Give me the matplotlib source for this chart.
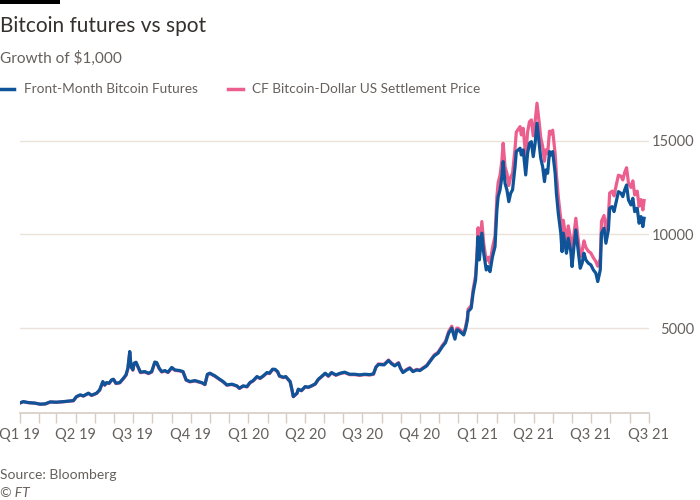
import matplotlib
matplotlib.use("Agg")
import matplotlib.pyplot as plt
import matplotlib.dates as mdates
from matplotlib.lines import Line2D
from matplotlib.patches import Rectangle
import pandas as pd

plt.rcParams['font.family'] = ['Lato', 'DejaVu Sans']

dates = [
    "2019-01-01", "2019-01-07", "2019-01-15", "2019-01-26", "2019-02-03", "2019-02-11", "2019-02-19",
    "2019-03-01", "2019-03-12", "2019-03-23", "2019-03-28", "2019-04-02", "2019-04-08", "2019-04-13",
    "2019-04-21", "2019-04-26", "2019-05-04", "2019-05-09", "2019-05-14", "2019-05-17", "2019-05-20",
    "2019-05-24", "2019-05-28", "2019-05-31", "2019-06-04", "2019-06-10", "2019-06-16", "2019-06-20",
    "2019-06-23", "2019-06-26", "2019-06-28", "2019-07-01", "2019-07-03", "2019-07-06", "2019-07-10",
    "2019-07-13", "2019-07-20", "2019-07-26", "2019-07-31", "2019-08-05", "2019-08-08", "2019-08-12",
    "2019-08-16", "2019-08-21", "2019-08-26", "2019-09-01", "2019-09-06", "2019-09-14", "2019-09-19",
    "2019-09-24", "2019-09-30", "2019-10-08", "2019-10-13", "2019-10-19", "2019-10-24", "2019-10-28",
    "2019-11-01", "2019-11-09", "2019-11-14", "2019-11-22", "2019-11-28", "2019-12-06", "2019-12-14",
    "2019-12-18", "2019-12-24", "2019-12-30", "2020-01-04", "2020-01-09", "2020-01-15", "2020-01-20",
    "2020-01-25", "2020-01-31", "2020-02-04", "2020-02-09", "2020-02-13", "2020-02-17", "2020-02-20",
    "2020-02-26", "2020-03-01", "2020-03-08", "2020-03-11", "2020-03-13", "2020-03-19", "2020-03-21",
    "2020-03-26", "2020-04-01", "2020-04-06", "2020-04-11", "2020-04-17", "2020-04-22", "2020-04-27",
    "2020-05-03", "2020-05-08", "2020-05-13", "2020-05-20", "2020-05-27", "2020-06-03", "2020-06-11",
    "2020-06-19", "2020-06-27", "2020-07-05", "2020-07-13", "2020-07-19", "2020-07-23", "2020-07-27",
    "2020-08-05", "2020-08-12", "2020-08-17", "2020-08-22", "2020-08-28", "2020-08-31", "2020-09-04",
    "2020-09-10", "2020-09-15", "2020-09-20", "2020-09-26", "2020-10-01", "2020-10-06", "2020-10-12",
    "2020-10-21", "2020-10-24", "2020-10-30", "2020-11-06", "2020-11-11", "2020-11-16", "2020-11-21",
    "2020-11-26", "2020-11-29", "2020-12-01", "2020-12-10", "2020-12-13", "2020-12-16", "2020-12-17",
    "2020-12-22", "2020-12-25", "2020-12-29", "2020-12-31", "2021-01-02", "2021-01-04", "2021-01-08",
    "2021-01-11", "2021-01-15", "2021-01-18", "2021-01-21", "2021-01-25", "2021-01-29", "2021-02-01",
    "2021-02-03", "2021-02-06", "2021-02-09", "2021-02-11", "2021-02-14", "2021-02-17", "2021-02-20",
    "2021-02-23", "2021-02-26", "2021-03-02", "2021-03-04", "2021-03-07", "2021-03-10", "2021-03-12",
    "2021-03-15", "2021-03-19", "2021-03-22", "2021-03-25", "2021-03-28", "2021-03-31", "2021-04-03",
    "2021-04-06", "2021-04-10", "2021-04-12", "2021-04-15", "2021-04-18", "2021-04-20", "2021-04-23",
    "2021-04-26", "2021-04-28", "2021-05-01", "2021-05-05", "2021-05-07", "2021-05-10", "2021-05-14",
    "2021-05-16", "2021-05-18", "2021-05-21", "2021-05-23", "2021-05-26", "2021-05-30", "2021-06-01",
    "2021-06-04", "2021-06-07", "2021-06-10", "2021-06-14", "2021-06-17", "2021-06-20", "2021-06-23",
    "2021-06-27", "2021-07-01", "2021-07-05", "2021-07-09", "2021-07-12", "2021-07-16", "2021-07-18",
    "2021-07-22", "2021-07-25", "2021-07-29", "2021-07-31", "2021-08-04", "2021-08-07", "2021-08-10",
    "2021-08-14", "2021-08-18", "2021-08-21", "2021-08-24", "2021-08-27", "2021-08-30", "2021-09-03",
    "2021-09-06", "2021-09-09", "2021-09-13", "2021-09-16", "2021-09-19", "2021-09-22", "2021-09-24",
]

futures = [
    1000, 1080, 1030, 1000, 945, 960, 1065,
    1050, 1080, 1120, 1135, 1350, 1440, 1385,
    1530, 1420, 1530, 1705, 2150, 1970, 2095,
    2060, 2240, 2275, 2060, 2095, 2330, 2505,
    2860, 3750, 2950, 2780, 3130, 3180, 2880,
    2650, 2680, 2595, 2680, 3190, 3160, 2860,
    2680, 2735, 2650, 2900, 2770, 2735, 2680,
    2240, 2150, 2200, 2150, 2095, 2000, 2540,
    2595, 2450, 2330, 2150, 1970, 2010, 1920,
    1795, 1920, 1880, 2100, 2200, 2415, 2330,
    2450, 2630, 2595, 2810, 2800, 2680, 2450,
    2380, 2415, 2150, 1700, 1350, 1530, 1745,
    1670, 1880, 1850, 1920, 2025, 2275, 2415,
    2595, 2450, 2630, 2505, 2595, 2650, 2540,
    2540, 2505, 2540, 2520, 2560, 2915, 3060,
    3040, 3270, 3100, 2985, 3130, 2860, 2630,
    2770, 2860, 2680, 2770, 2735, 2850, 2985,
    3395, 3520, 3660, 4015, 4225, 4725, 4995,
    4410, 4900, 4905, 4635, 4950, 5440, 5880,
    6060, 6860, 7570, 8635, 9875, 8635, 10060,
    8990, 8100, 8280, 8010, 8810, 9345, 11300,
    12010, 12370, 13075, 13875, 12720, 12370, 11740,
    12190, 12370, 13610, 14410, 14500, 14590, 14230,
    14500, 13165, 14320, 14855, 14940, 14140, 14855,
    15920, 14675, 14055, 13610, 12810, 13430, 13255,
    14410, 14230, 14410, 13255, 12190, 11125, 10060,
    9075, 10060, 9435, 8990, 9790, 9075, 8280,
    9345, 10235, 9345, 8190, 8460, 8990, 8635,
    8460, 8370, 8100, 7925, 7480, 8100, 10060,
    10325, 9525, 10235, 11390, 11475, 11210, 11655,
    12275, 12190, 12010, 12370, 12630, 11830, 11565,
    11920, 11210, 11390, 10590, 10945, 10410, 10855,
]

spot = [
    1000, 1072, 1022, 992, 938, 952, 1056,
    1041, 1071, 1110, 1125, 1338, 1427, 1372,
    1516, 1407, 1516, 1690, 2130, 1952, 2076,
    2041, 2219, 2254, 2041, 2076, 2308, 2482,
    2834, 3716, 2923, 2755, 3101, 3151, 2854,
    2626, 2656, 2571, 2656, 3161, 3131, 2834,
    2656, 2710, 2626, 2874, 2745, 2710, 2656,
    2220, 2131, 2180, 2131, 2076, 1982, 2517,
    2572, 2428, 2309, 2131, 1952, 1992, 1903,
    1779, 1903, 1863, 2081, 2180, 2393, 2309,
    2428, 2606, 2572, 2785, 2775, 2656, 2428,
    2359, 2393, 2131, 1685, 1338, 1516, 1729,
    1655, 1863, 1833, 1903, 2007, 2254, 2393,
    2572, 2428, 2606, 2482, 2572, 2626, 2517,
    2517, 2482, 2517, 2497, 2537, 2930, 3090,
    3070, 3300, 3130, 3015, 3160, 2890, 2655,
    2800, 2890, 2705, 2800, 2765, 2880, 3020,
    3440, 3570, 3710, 4080, 4300, 4820, 5100,
    4500, 5000, 5000, 4730, 5060, 5580, 6000,
    6200, 7050, 7800, 8900, 10350, 9000, 10680,
    9500, 8600, 8780, 8450, 9300, 9900, 12000,
    12750, 13150, 13950, 14855, 13600, 13250, 12600,
    13050, 13250, 14600, 15450, 15600, 15740, 15300,
    15650, 14150, 15450, 16000, 16100, 15250, 16000,
    16990, 15800, 15150, 14700, 13900, 14500, 14300,
    15500, 15350, 15550, 14300, 13200, 12000, 10800,
    9700, 10750, 10050, 9600, 10450, 9700, 8900,
    10000, 10855, 9950, 8800, 9100, 9650, 9300,
    9100, 9000, 8750, 8550, 8300, 8700, 10700,
    11000, 10200, 10950, 12200, 12300, 12050, 12550,
    13150, 13100, 12900, 13300, 13550, 12750, 12500,
    12850, 12100, 12300, 11500, 11850, 11300, 11800,
]

series_names = ["Front-Month Bitcoin Futures", "CF Bitcoin-Dollar US Settlement Price"]
quarter_ticks = ["2019-01-01", "2019-04-01", "2019-07-01", "2019-10-01", "2020-01-01", "2020-04-01",
                 "2020-07-01", "2020-10-01", "2021-01-01", "2021-04-01", "2021-07-01", "2021-10-01"]
quarter_labels = ["Q1 19", "Q2 19", "Q3 19", "Q4 19", "Q1 20", "Q2 20",
                  "Q3 20", "Q4 20", "Q1 21", "Q2 21", "Q3 21", "Q3 21"]
y_ticks = [5000, 10000, 15000]

BLUE = "#0f5499"
PINK = "#eb5e8d"
TEXT = "#66605c"
DARK = "#33302e"
GRID = "#ebe3da"
AXIS = "#d6cdc4"

x = pd.to_datetime(dates)

fig = plt.figure(figsize=(7, 5), dpi=100, facecolor="white")
ax = fig.add_axes([19.5 / 700, 0.175, 629 / 700, 0.634])
ax.set_facecolor("white")

ax.plot(x, spot, color=PINK, lw=2.3, solid_joinstyle="round", zorder=3)
ax.plot(x, futures, color=BLUE, lw=2.3, solid_joinstyle="round", zorder=4)

ax.set_xlim(pd.Timestamp("2019-01-01"), pd.Timestamp("2021-10-01"))
ax.set_ylim(500, 17400)

ax.set_xticks(pd.to_datetime(quarter_ticks))
ax.set_xticklabels(quarter_labels)
ax.xaxis.set_minor_locator(mdates.MonthLocator())
ax.tick_params(axis="x", which="major", length=7.5, width=1, color=AXIS, labelcolor=TEXT,
               labelsize=10.5, pad=4)
ax.tick_params(axis="x", which="minor", length=7.5, width=1, color=AXIS)

ax.yaxis.tick_right()
ax.set_yticks(y_ticks)
ax.set_yticklabels([str(v) for v in y_ticks])
ax.tick_params(axis="y", which="both", length=0, labelcolor=TEXT, labelsize=10.5, pad=33)
for lab in ax.get_yticklabels():
    lab.set_horizontalalignment("right")
ax.grid(axis="y", color=GRID, lw=1)
ax.set_axisbelow(True)

for s in ["top", "right", "left"]:
    ax.spines[s].set_visible(False)
ax.spines["bottom"].set_color(AXIS)
ax.spines["bottom"].set_linewidth(1.2)

# top black bar
fig.patches.append(Rectangle((0, 1 - 4 / 500), 60 / 700, 4 / 500, transform=fig.transFigure,
                             facecolor="black", edgecolor="none"))

fig.text(0, 1 - 32.5 / 500, "Bitcoin futures vs spot", fontsize=15, color=DARK, va="baseline", ha="left")
fig.text(0, 1 - 62.5 / 500, "Growth of $1,000", fontsize=11.1, color=TEXT, va="baseline", ha="left")

# legend
ly = 1 - 88.5 / 500
fig.lines.append(Line2D([0, 14 / 700], [ly, ly], transform=fig.transFigure, color=BLUE, lw=2.5))
fig.text(24 / 700, 1 - 93 / 500, series_names[0], fontsize=9.8, color=TEXT, va="baseline", ha="left")
fig.lines.append(Line2D([228 / 700, 243 / 700], [ly, ly], transform=fig.transFigure, color=PINK, lw=2.5))
fig.text(252 / 700, 1 - 93 / 500, series_names[1], fontsize=9.8, color=TEXT, va="baseline", ha="left")

fig.text(0, 1 - 479 / 500, "Source: Bloomberg", fontsize=10, color=TEXT, va="baseline", ha="left")
fig.text(0, 1 - 497 / 500, "© FT", fontsize=10, color=TEXT, va="baseline", ha="left", style="italic")

fig.savefig("out.png", dpi=100, facecolor="white")
